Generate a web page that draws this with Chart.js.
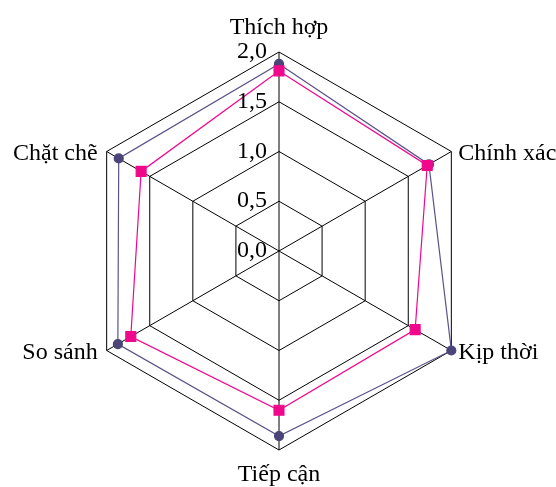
<!DOCTYPE html>
<html>
<head>
<meta charset="utf-8">
<script src="https://cdn.jsdelivr.net/npm/chart.js@4/dist/chart.umd.min.js"></script>
<style>
  html, body { margin: 0; padding: 0; background: #fff; }
  #wrap { width: 556px; height: 487px; position: relative; }
</style>
</head>
<body>
<div id="wrap"><canvas id="radar"></canvas></div>
<script>
// Radar chart data
const categories = ['Thích hợp', 'Chính xác', 'Kịp thời', 'Tiếp cận', 'So sánh', 'Chặt chẽ'];
const seriesPink = [1.81, 1.72, 1.58, 1.6, 1.72, 1.6];
const seriesPurple = [1.88, 1.74, 2.0, 1.86, 1.87, 1.86];
const tickValues = [0, 0.5, 1.0, 1.5, 2.0];

const FONT = '24px "Liberation Serif", "Times New Roman", serif';

// draws axis labels and tick labels in the old spreadsheet style
const labelPlugin = {
  id: 'labelPlugin',
  afterDraw(chart) {
    const scale = chart.scales.r;
    const ctx = chart.ctx;
    ctx.save();
    ctx.font = FONT;
    ctx.fillStyle = '#000';
    ctx.textBaseline = 'alphabetic';

    // tick labels, left of the vertical axis
    ctx.textAlign = 'right';
    tickValues.forEach(v => {
      const d = scale.getDistanceFromCenterForValue(v);
      ctx.fillText(v.toFixed(1).replace('.', ','), scale.xCenter - 12, scale.yCenter - d + 6);
    });

    // category labels
    categories.forEach((name, i) => {
      const p = scale.getPointPosition(i, scale.drawingArea);
      const dx = p.x - scale.xCenter;
      const dy = p.y - scale.yCenter;
      if (Math.abs(dx) < 1) {
        ctx.textAlign = 'center';
        ctx.fillText(name, p.x, dy < 0 ? p.y - 18 : p.y + 31);
      } else if (dx > 0) {
        ctx.textAlign = 'left';
        ctx.fillText(name, p.x + 7, p.y + 8);
      } else {
        ctx.textAlign = 'right';
        ctx.fillText(name, p.x - 9, p.y + 8);
      }
    });
    ctx.restore();
  }
};

new Chart(document.getElementById('radar'), {
  type: 'radar',
  data: {
    labels: categories,
    datasets: [
      {
        data: seriesPink,
        borderColor: '#f0088c',
        backgroundColor: 'transparent',
        borderWidth: 1.2,
        pointStyle: 'rect',
        pointRadius: 7,
        pointBackgroundColor: '#f0088c',
        pointBorderColor: '#f0088c',
        fill: false
      },
      {
        data: seriesPurple,
        borderColor: '#5a5488',
        backgroundColor: 'transparent',
        borderWidth: 1.2,
        pointStyle: 'circle',
        pointRadius: 4.5,
        pointBackgroundColor: '#4a4478',
        pointBorderColor: '#4a4478',
        fill: false
      }
    ]
  },
  options: {
    responsive: true,
    maintainAspectRatio: false,
    animation: false,
    layout: { padding: { left: 80, right: 78, top: 52, bottom: 37 } },
    plugins: { legend: { display: false }, tooltip: { enabled: false } },
    elements: { line: { tension: 0 } },
    scales: {
      r: {
        min: 0,
        max: 2,
        beginAtZero: true,
        ticks: { stepSize: 0.5, display: false },
        pointLabels: { display: false },
        grid: { color: '#000', lineWidth: 1 },
        angleLines: { color: '#000', lineWidth: 1 }
      }
    }
  },
  plugins: [labelPlugin]
});
</script>
</body>
</html>
